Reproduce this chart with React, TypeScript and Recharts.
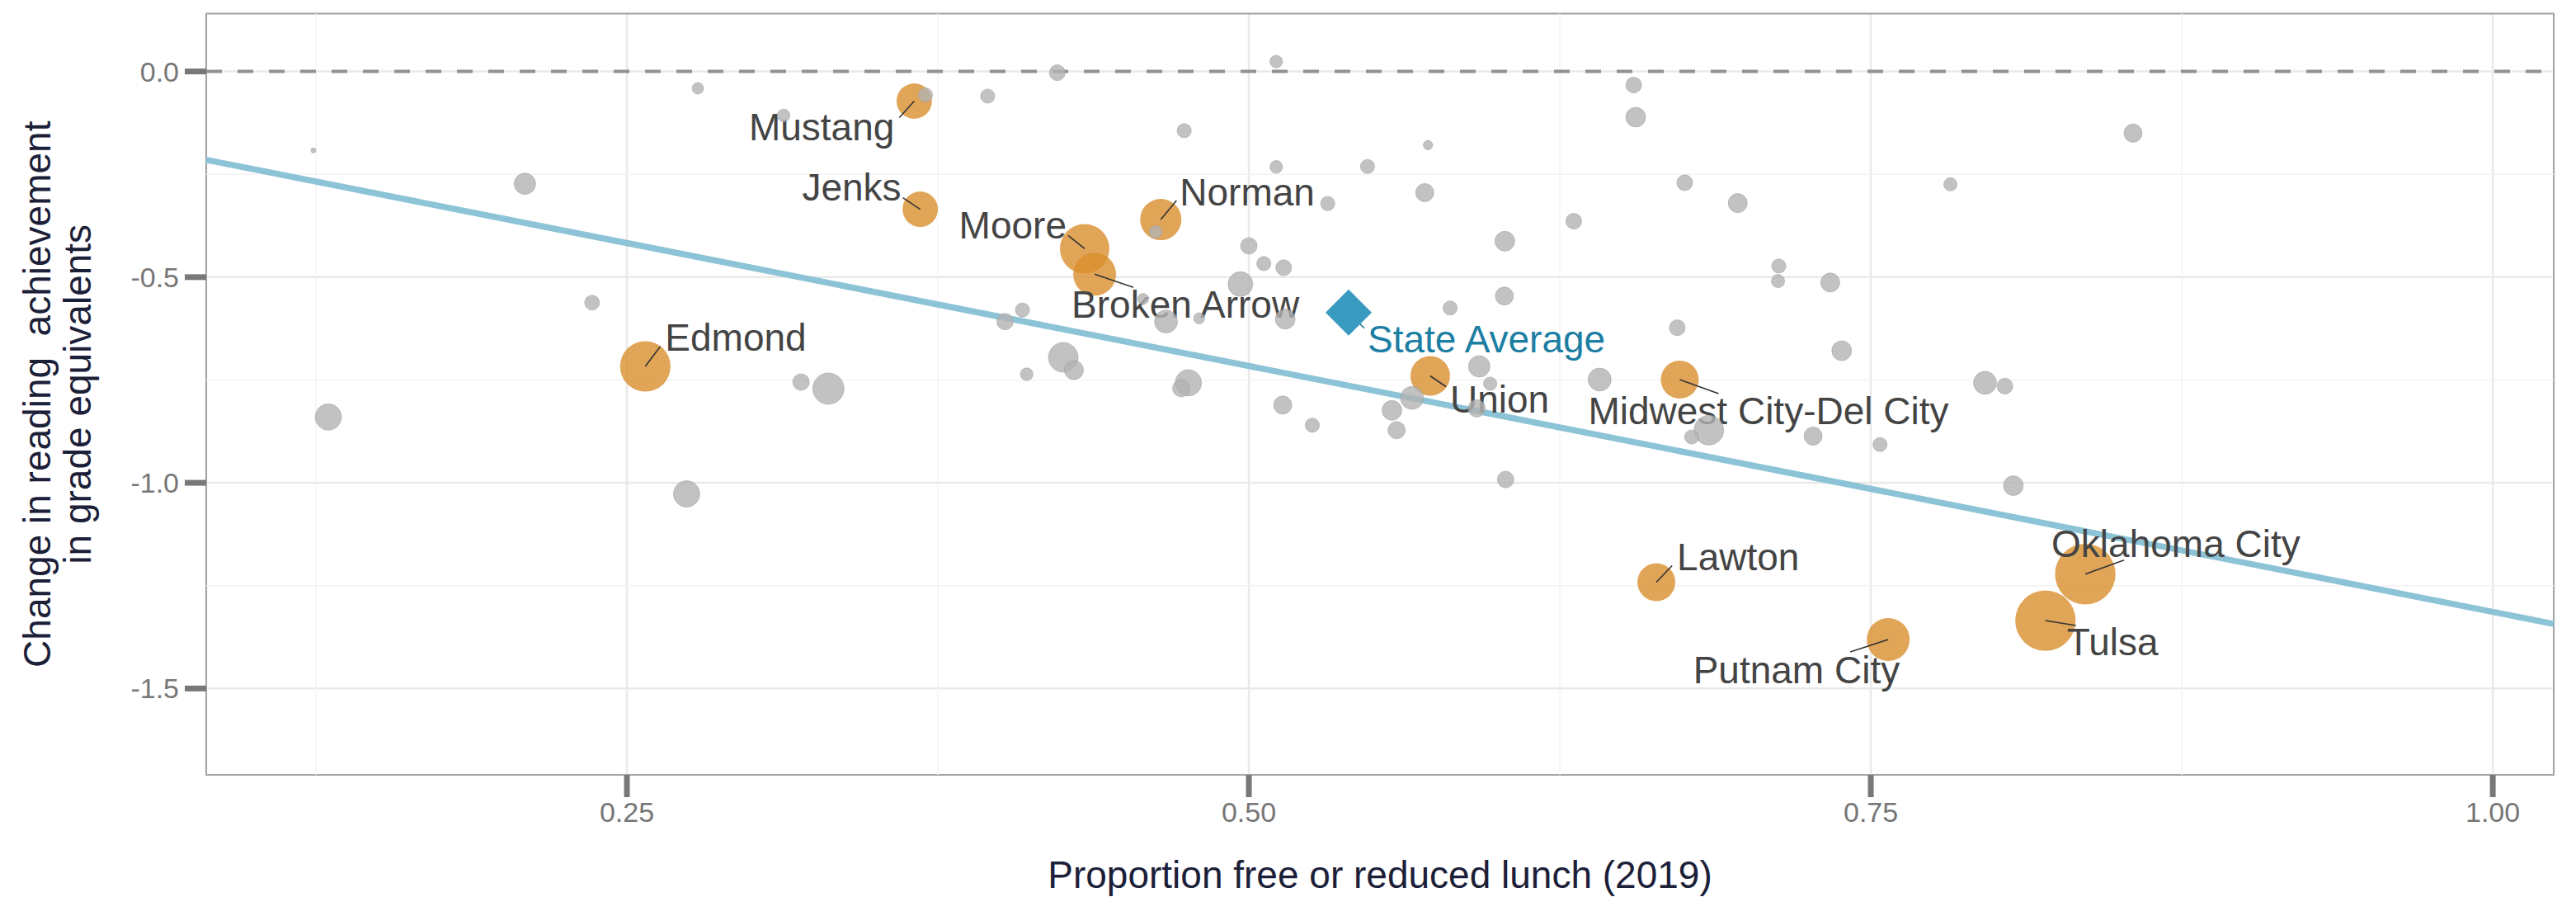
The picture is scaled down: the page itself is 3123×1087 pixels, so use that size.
import React from "react";
import {
  ScatterChart,
  Scatter,
  XAxis,
  YAxis,
  ZAxis,
  CartesianGrid,
  ReferenceLine,
  ReferenceArea,
  Label,
} from "recharts";

// ---------------- data ----------------
// other districts (gray): proportion FRL, change in reading GE, enrollment (thousands)
const grayX = [
  0.124, 0.209, 0.2785, 0.236, 0.13, 0.274, 0.37, 0.313, 0.423, 0.395, 0.511, 0.474, 0.511,
  0.4625, 0.5, 0.506, 0.514, 0.4966, 0.4575, 0.4667, 0.48, 0.5146, 0.409, 0.402, 0.4254,
  0.4297, 0.4107, 0.32, 0.331, 0.4757, 0.4728, 0.5136, 0.5255, 0.5317, 0.5477, 0.572, 0.5707,
  0.6547, 0.6555, 0.6752, 0.6965, 0.6306, 0.6029, 0.713, 0.7127, 0.7337, 0.6027, 0.5809,
  0.6722, 0.7383, 0.5926, 0.597, 0.641, 0.5656, 0.5575, 0.5594, 0.5916, 0.6849, 0.678, 0.7268,
  0.7537, 0.6032, 0.7959, 0.8039, 0.8073, 0.8554, 0.782,
];
const grayY = [
  -0.192, -0.273, -0.041, -0.562, -0.84, -1.027, -0.057, -0.107, -0.003, -0.06, 0.024, -0.144,
  -0.232, -0.39, -0.424, -0.467, -0.477, -0.517, -0.553, -0.608, -0.6, -0.602, -0.58, -0.608,
  -0.695, -0.726, -0.736, -0.755, -0.771, -0.757, -0.77, -0.811, -0.86, -0.321, -0.231, -0.179,
  -0.2945, -0.033, -0.111, -0.2705, -0.32, -0.364, -0.4125, -0.473, -0.5095, -0.513, -0.546,
  -0.575, -0.623, -0.679, -0.717, -0.759, -0.749, -0.7935, -0.824, -0.872, -0.819, -0.872,
  -0.8885, -0.8865, -0.907, -0.992, -0.757, -0.765, -1.007, -0.15, -0.2745,
];
const grayEnroll = [
  0.25, 4.7, 1.36, 2.25, 7.1, 7.1, 2.05, 1.65, 2.56, 2.05, 1.65, 2.05, 1.65, 1.65, 2.8, 2.05,
  2.56, 6.25, 1.25, 5.4, 1.25, 4.0, 2.05, 2.8, 9.0, 3.7, 1.65, 2.8, 10.0, 7.1, 3.06, 3.36, 2.05,
  2.05, 2.05, 0.9, 3.36, 2.56, 4.0, 2.56, 3.7, 2.56, 4.0, 2.05, 1.8, 3.7, 3.36, 2.05, 2.56, 4.0,
  4.7, 1.8, 5.4, 5.4, 4.0, 3.06, 3.06, 9.0, 2.05, 3.36, 2.05, 2.8, 5.4, 2.56, 4.0, 3.36, 1.8,
];

// highlighted districts (orange)
const districtNames = [
  "Mustang", "Jenks", "Norman", "Moore", "Broken Arrow", "Edmond", "Union",
  "Midwest City-Del City", "Lawton", "Putnam City", "Oklahoma City", "Tulsa",
];
const districtX = [0.3655, 0.3679, 0.4646, 0.434, 0.438, 0.2574, 0.5729, 0.6732, 0.6638, 0.757, 0.8362, 0.8202];
const districtY = [-0.072, -0.335, -0.36, -0.431, -0.493, -0.717, -0.74, -0.749, -1.2415, -1.381, -1.222, -1.335];
const districtEnroll = [12.8, 12.8, 17.4, 25.0, 18.8, 26.0, 16.0, 14.7, 14.7, 18.8, 37.4, 37.2];

// state average
const stateName = "State Average";
const stateX = 0.5401;
const stateY = -0.586;

// fitted line (at the panel edges)
const fitX = [0.0809, 1.0245];
const fitY = [-0.215, -1.343];

// axes
const xDomain = [0.0809, 1.0245];
const yDomain = [-1.71, 0.1406];
const xTicks = [0.25, 0.5, 0.75, 1.0];
const yTicks = [-1.5, -1.0, -0.5, 0.0];
const xMinor = [0.125, 0.375, 0.625, 0.875];
const yMinor = [-1.25, -0.75, -0.25];

const xTitle = "Proportion free or reduced lunch (2019)";
const yTitle1 = "Change in reading  achievement";
const yTitle2 = "in grade equivalents";

// ---------------- layout / style ----------------
const FONT = '"Liberation Sans", Arial, Helvetica, sans-serif';
const W = 3123;
const H = 1087;
const ORANGE = "#D98E2E";
const GRAY = "#b3b3b3";
const BLUE_LINE = "#8cc3d6";
const DIAMOND = "#3a9bc1";
const STATE_TEXT = "#1d7ea3";
const LABEL_TEXT = "#444444";
const TITLE = "#1b2038";

// label placement (pixel offsets from the point centre) – mimics ggrepel result
const labelLayout: Record<string, { anchor: string; dx: number; dy: number; sx: number; sy: number }> = {
  Mustang: { anchor: "end", dx: -24, dy: 48, sx: -18, sy: 20 },
  Jenks: { anchor: "end", dx: -23, dy: -11, sx: -21, sy: -14 },
  Moore: { anchor: "end", dx: -22, dy: -12, sx: -20, sy: -16 },
  Norman: { anchor: "start", dx: 23, dy: -17, sx: 19, sy: -23 },
  "Broken Arrow": { anchor: "start", dx: -28, dy: 53, sx: 47, sy: 16 },
  Edmond: { anchor: "start", dx: 24, dy: -19, sx: 18, sy: -24 },
  "State Average": { anchor: "start", dx: 23, dy: 48, sx: 19, sy: 19 },
  Union: { anchor: "start", dx: 24, dy: 45, sx: 19, sy: 13 },
  "Midwest City-Del City": { anchor: "start", dx: -111, dy: 54, sx: 47, sy: 17 },
  Lawton: { anchor: "start", dx: 25, dy: -14, sx: 19, sy: -20 },
  "Putnam City": { anchor: "end", dx: 14, dy: 53, sx: -46, sy: 15 },
  "Oklahoma City": { anchor: "start", dx: -41, dy: -21, sx: 47, sy: -17 },
  Tulsa: { anchor: "start", dx: 26, dy: 42, sx: 37, sy: 6 },
};

// ---------------- build series ----------------
const grayData = grayX.map((x, i) => ({ x, y: grayY[i], z: grayEnroll[i] }));
const districtData = districtNames.map((name, i) => ({
  name,
  x: districtX[i],
  y: districtY[i],
  z: districtEnroll[i],
}));
const stateData = [{ name: stateName, x: stateX, y: stateY, z: 1 }];
const labelData = [...districtData, ...stateData];

const LabelShape = (props: any) => {
  const { cx, cy, payload } = props;
  if (cx == null || cy == null || !payload) return null;
  const L = labelLayout[payload.name];
  if (!L) return null;
  const isState = payload.name === stateName;
  return (
    <g>
      <line
        x1={cx}
        y1={cy}
        x2={cx + L.sx}
        y2={cy + L.sy}
        stroke={isState ? "#1f6f8c" : "#333333"}
        strokeWidth={1.6}
      />
      <text
        x={cx + L.dx}
        y={cy + L.dy}
        textAnchor={L.anchor as any}
        fontSize={46}
        fontFamily={FONT}
        fill={isState ? STATE_TEXT : LABEL_TEXT}
      >
        {payload.name}
      </text>
    </g>
  );
};

const DiamondShape = (props: any) => {
  const { cx, cy } = props;
  if (cx == null || cy == null) return null;
  const h = 28;
  return (
    <polygon
      points={`${cx},${cy - h} ${cx + h},${cy} ${cx},${cy + h} ${cx - h},${cy}`}
      fill={DIAMOND}
    />
  );
};

const YTitle = (p: any) => {
  const vb = p.viewBox || { x: 0, y: 16.5, width: 250, height: 922.5 };
  const cy = vb.y + vb.height / 2;
  const x1 = vb.x + 61;
  const x2 = vb.x + 110;
  return (
    <g>
      <text
        x={x1}
        y={cy}
        transform={`rotate(-90, ${x1}, ${cy})`}
        textAnchor="middle"
        fontSize={46}
        fontFamily={FONT}
        fill={TITLE}
        xmlSpace="preserve"
        style={{ whiteSpace: "pre" }}
      >
        {yTitle1}
      </text>
      <text
        x={x2}
        y={cy}
        transform={`rotate(-90, ${x2}, ${cy})`}
        textAnchor="middle"
        fontSize={46}
        fontFamily={FONT}
        fill={TITLE}
      >
        {yTitle2}
      </text>
    </g>
  );
};

const XTitle = (p: any) => {
  const vb = p.viewBox || { x: 250, y: 939, width: 2846, height: 148 };
  return (
    <text
      x={vb.x + vb.width / 2}
      y={vb.y + 137}
      textAnchor="middle"
      fontSize={46}
      fontFamily={FONT}
      fill={TITLE}
    >
      {xTitle}
    </text>
  );
};

export default function App() {
  return (
    <div style={{ position: "absolute", left: 0, top: 0, width: W, height: H, background: "#fff", fontFamily: FONT }}>
      <ScatterChart
        width={W}
        height={H}
        margin={{ top: 16.5, right: 27, bottom: 0, left: 0 }}
      >
        <CartesianGrid stroke="#e9e9e9" strokeWidth={2.5} />
        {xMinor.map((v) => (
          <ReferenceLine key={"xm" + v} x={v} stroke="#f4f4f4" strokeWidth={1.5} />
        ))}
        {yMinor.map((v) => (
          <ReferenceLine key={"ym" + v} y={v} stroke="#f4f4f4" strokeWidth={1.5} />
        ))}
        <ReferenceArea
          x1={xDomain[0]}
          x2={xDomain[1]}
          y1={yDomain[0]}
          y2={yDomain[1]}
          fill="none"
          stroke="#a6a6a6"
          strokeWidth={2}
          ifOverflow="visible"
        />
        <ReferenceLine y={0} stroke="#909096" strokeWidth={4} strokeDasharray="19 19" />
        <ReferenceLine
          segment={[
            { x: fitX[0], y: fitY[0] },
            { x: fitX[1], y: fitY[1] },
          ]}
          stroke={BLUE_LINE}
          strokeWidth={7.5}
          ifOverflow="visible"
        />
        <XAxis
          type="number"
          dataKey="x"
          domain={xDomain}
          ticks={xTicks}
          interval={0}
          allowDataOverflow
          height={148}
          axisLine={false}
          tickSize={27}
          tickMargin={6}
          tickLine={{ stroke: "#787878", strokeWidth: 7 }}
          tick={{ fill: "#767676", fontSize: 34, fontFamily: FONT }}
          tickFormatter={(v: number) => v.toFixed(2)}
          label={<Label content={XTitle} />}
        />
        <YAxis
          type="number"
          dataKey="y"
          domain={yDomain}
          ticks={yTicks}
          interval={0}
          allowDataOverflow
          width={250}
          axisLine={false}
          tickSize={26}
          tickMargin={7}
          tickLine={{ stroke: "#787878", strokeWidth: 7 }}
          tick={{ fill: "#767676", fontSize: 34, fontFamily: FONT }}
          tickFormatter={(v: number) => v.toFixed(1)}
          label={<Label content={YTitle} />}
        />
        <ZAxis type="number" dataKey="z" domain={[0, 40]} range={[0, Math.PI * 36 * 40]} />
        <Scatter
          data={districtData}
          fill={ORANGE}
          fillOpacity={0.8}
          shape="circle"
          isAnimationActive={false}
        />
        <Scatter data={labelData} shape={LabelShape} isAnimationActive={false} />
        <Scatter
          data={grayData}
          fill={GRAY}
          fillOpacity={0.8}
          stroke="#9c9c9c"
          strokeOpacity={0.5}
          strokeWidth={1}
          shape="circle"
          isAnimationActive={false}
        />
        <Scatter data={stateData} shape={DiamondShape} isAnimationActive={false} />
      </ScatterChart>
    </div>
  );
}
